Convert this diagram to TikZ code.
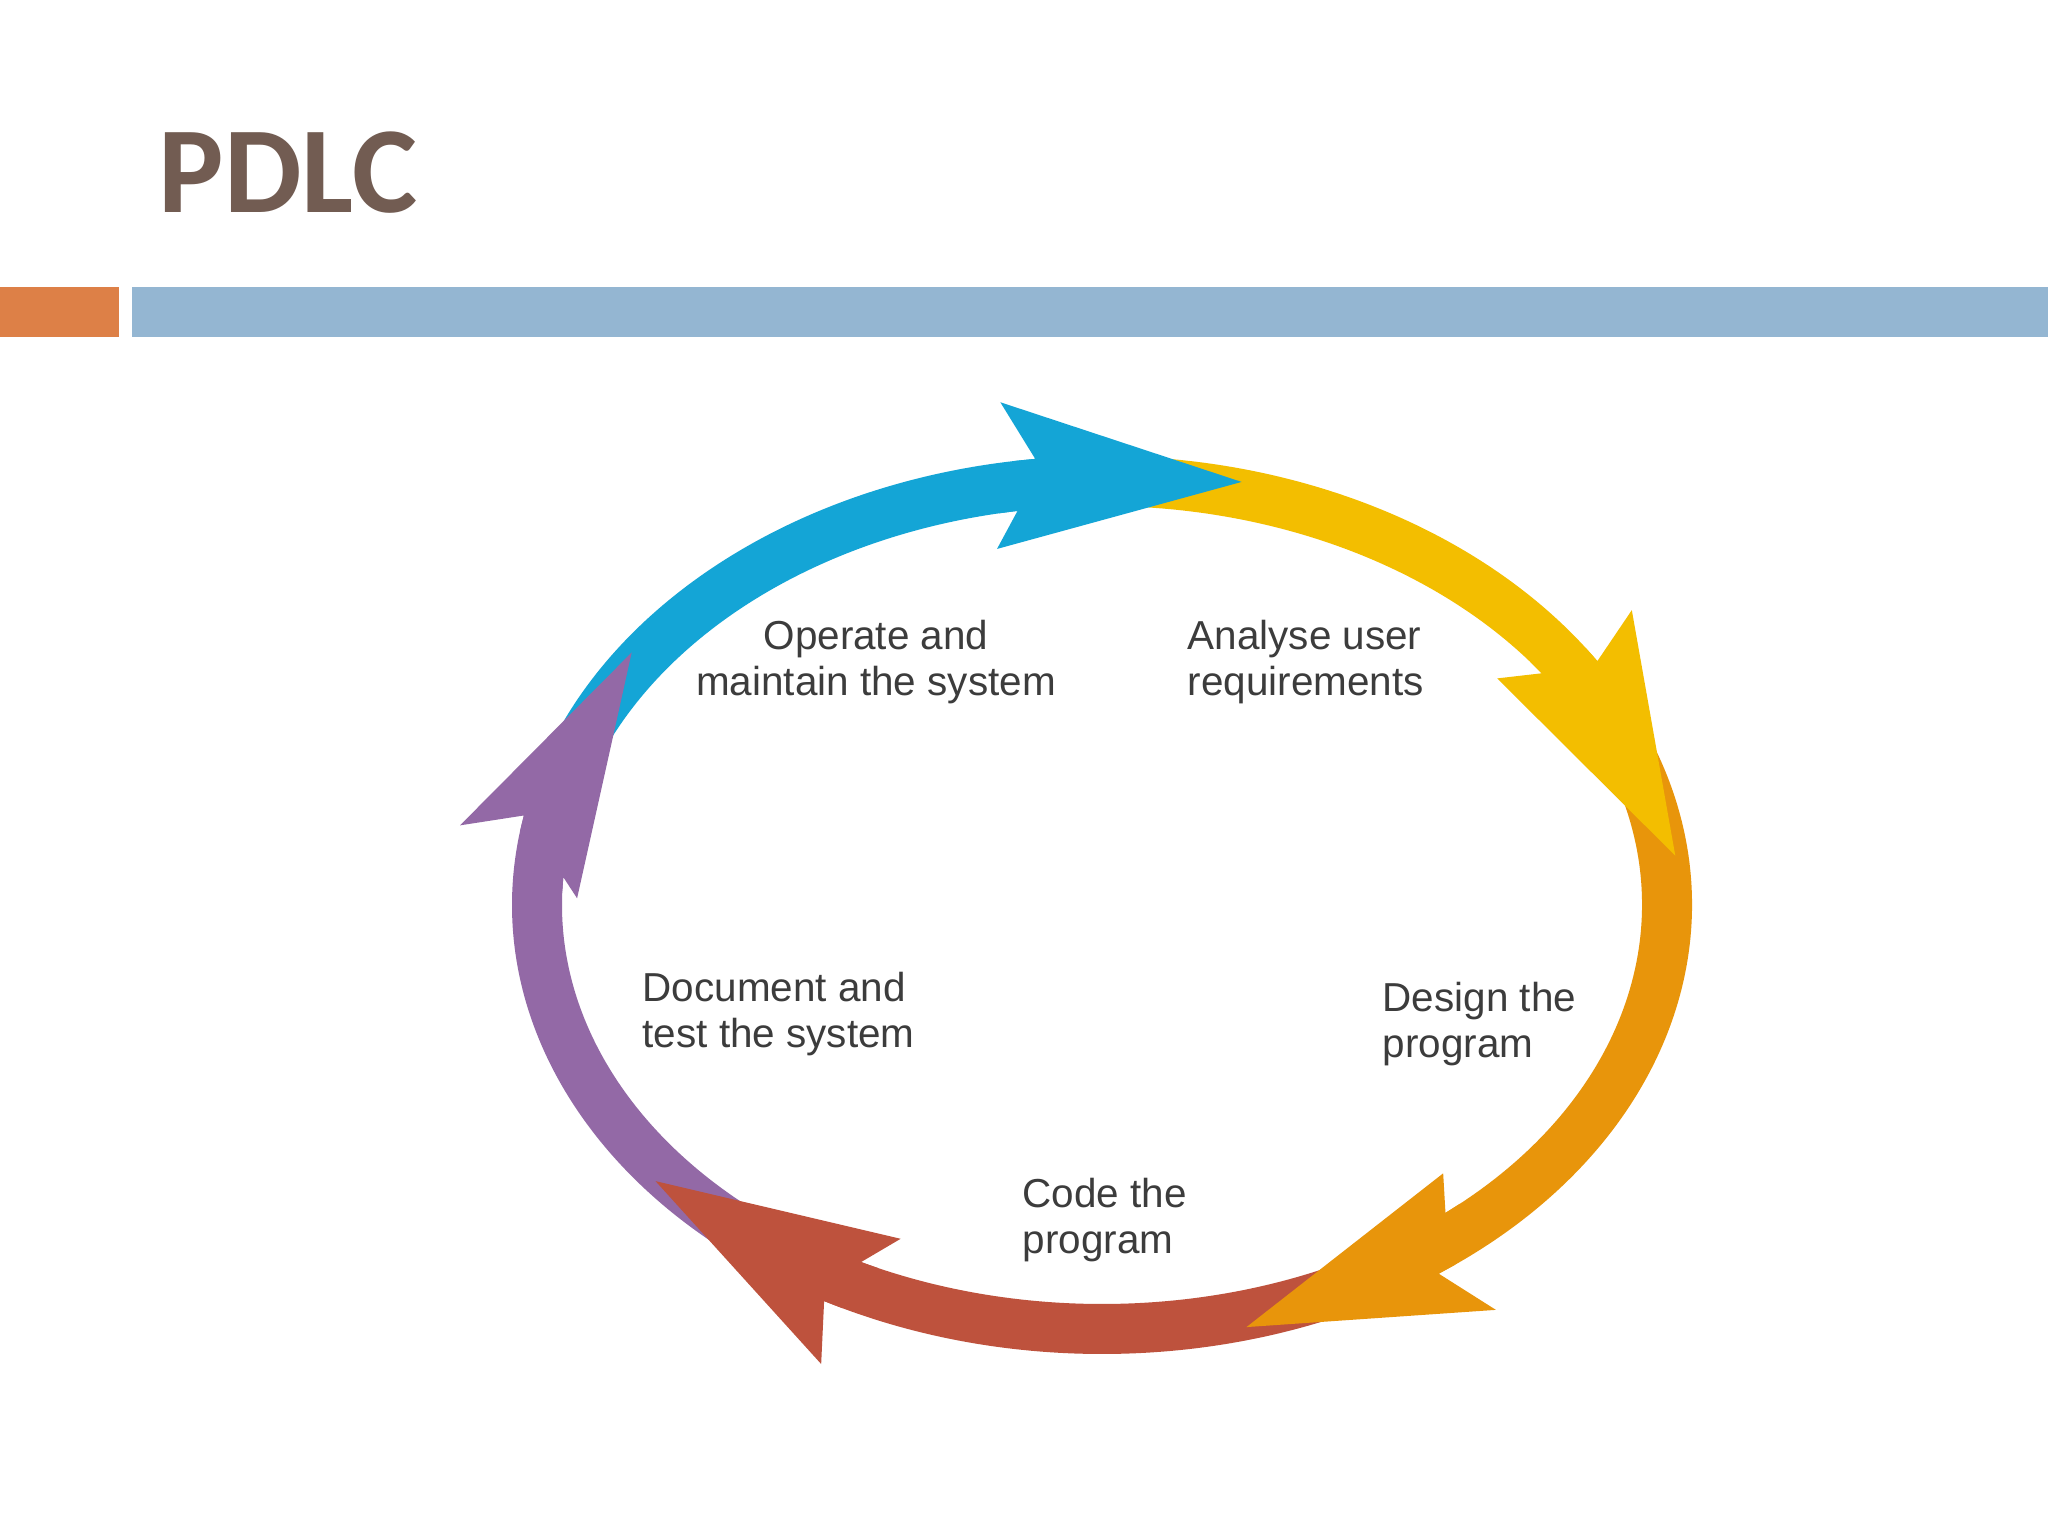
\documentclass[tikz,border=0pt]{standalone}
\usepackage{fontspec}
\setmainfont{Liberation Sans}
\newfontfamily\titlefont{Carlito}
\definecolor{titlebrown}{HTML}{725C52}
\definecolor{barorange}{HTML}{DD8047}
\definecolor{barblue}{HTML}{94B6D2}
\definecolor{stepblue}{HTML}{14A5D6}
\definecolor{stepyellow}{HTML}{F3BE00}
\definecolor{steporange}{HTML}{E8950B}
\definecolor{stepred}{HTML}{BE523D}
\definecolor{steppurple}{HTML}{9369A6}
\definecolor{labelgray}{HTML}{3C3C3C}
% colour / band start / outer barb / inner barb / inner barb depth / tip
\def\steplist{stepblue/165/99/102/-60/76, stepyellow/92/35.4/38.5/-60/6.5, steporange/28/-52.7/-47.5/-60/-75.5,
  stepred/-58/-115.6/-113.5/-60/-140.7, steppurple/-122/-189/-181/-40/-215.4}

\begin{document}
\begin{tikzpicture}[x=0.01cm, y=0.01cm,
  declare function={ex(\t,\r)=1102+(565+\r)*cos(\t); ey(\t,\r)=631+(424+\r)*sin(\t);},
  steplabel/.style={font=\fontsize{11.5}{13.1}\selectfont, text=labelgray, align=left, inner sep=0pt}]
\useasboundingbox (0,0) rectangle (2048,1536);
\fill[white] (0,0) rectangle (2048,1536);

% Title and header bars
\node[font=\titlefont\bfseries\fontsize{35}{42}\selectfont, text=titlebrown, anchor=base west, inner sep=0pt] (title) at (158,1323) {PDLC};
\fill[barorange] (0,1199) rectangle (119,1249);
\fill[barblue] (132,1199) rectangle (2048,1249);

% Bands of the cycle (clockwise)
\foreach \col/\ts/\bo/\bi/\ri/\tt in \steplist{
  \pgfmathsetmacro\te{min(\bo-2.5,\bi-3)}
  \fill[\col] ({ex(\ts,25)},{ey(\ts,25)}) arc[start angle=\ts, end angle=\te, x radius=590, y radius=449]
    -- ({ex(\te,-25)},{ey(\te,-25)}) arc[start angle=\te, end angle=\ts, x radius=540, y radius=399] -- cycle;
}

% Arrow heads on top of the next band
\foreach \col/\ts/\bo/\bi/\ri/\tt in \steplist{
  \pgfmathsetmacro\no{\bo-2.5}
  \pgfmathsetmacro\ni{\bi-3}
  \fill[\col] ({ex(\no+2,25)},{ey(\no+2,25)}) -- ({ex(\no,25)},{ey(\no,25)}) -- ({ex(\bo,85)},{ey(\bo,85)})
    -- ({ex(\tt,12)},{ey(\tt,12)}) -- ({ex(\bi,\ri)},{ey(\bi,\ri)}) -- ({ex(\ni,-25)},{ey(\ni,-25)})
    -- ({ex(\ni+2,-25)},{ey(\ni+2,-25)}) -- cycle;
}

% Step labels
\node[steplabel, align=center, anchor=base] (operate) at (876,840) {Operate and\\maintain the system};
\node[steplabel, anchor=base west] (analyse) at (1187,840) {Analyse user\\requirements};
\node[steplabel, anchor=base west] (design) at (1382,478) {Design the\\program};
\node[steplabel, anchor=base west] (code) at (1022,282) {Code the\\program};
\node[steplabel, anchor=base west] (document) at (642,488) {Document and\\test the system};
\end{tikzpicture}
\end{document}
